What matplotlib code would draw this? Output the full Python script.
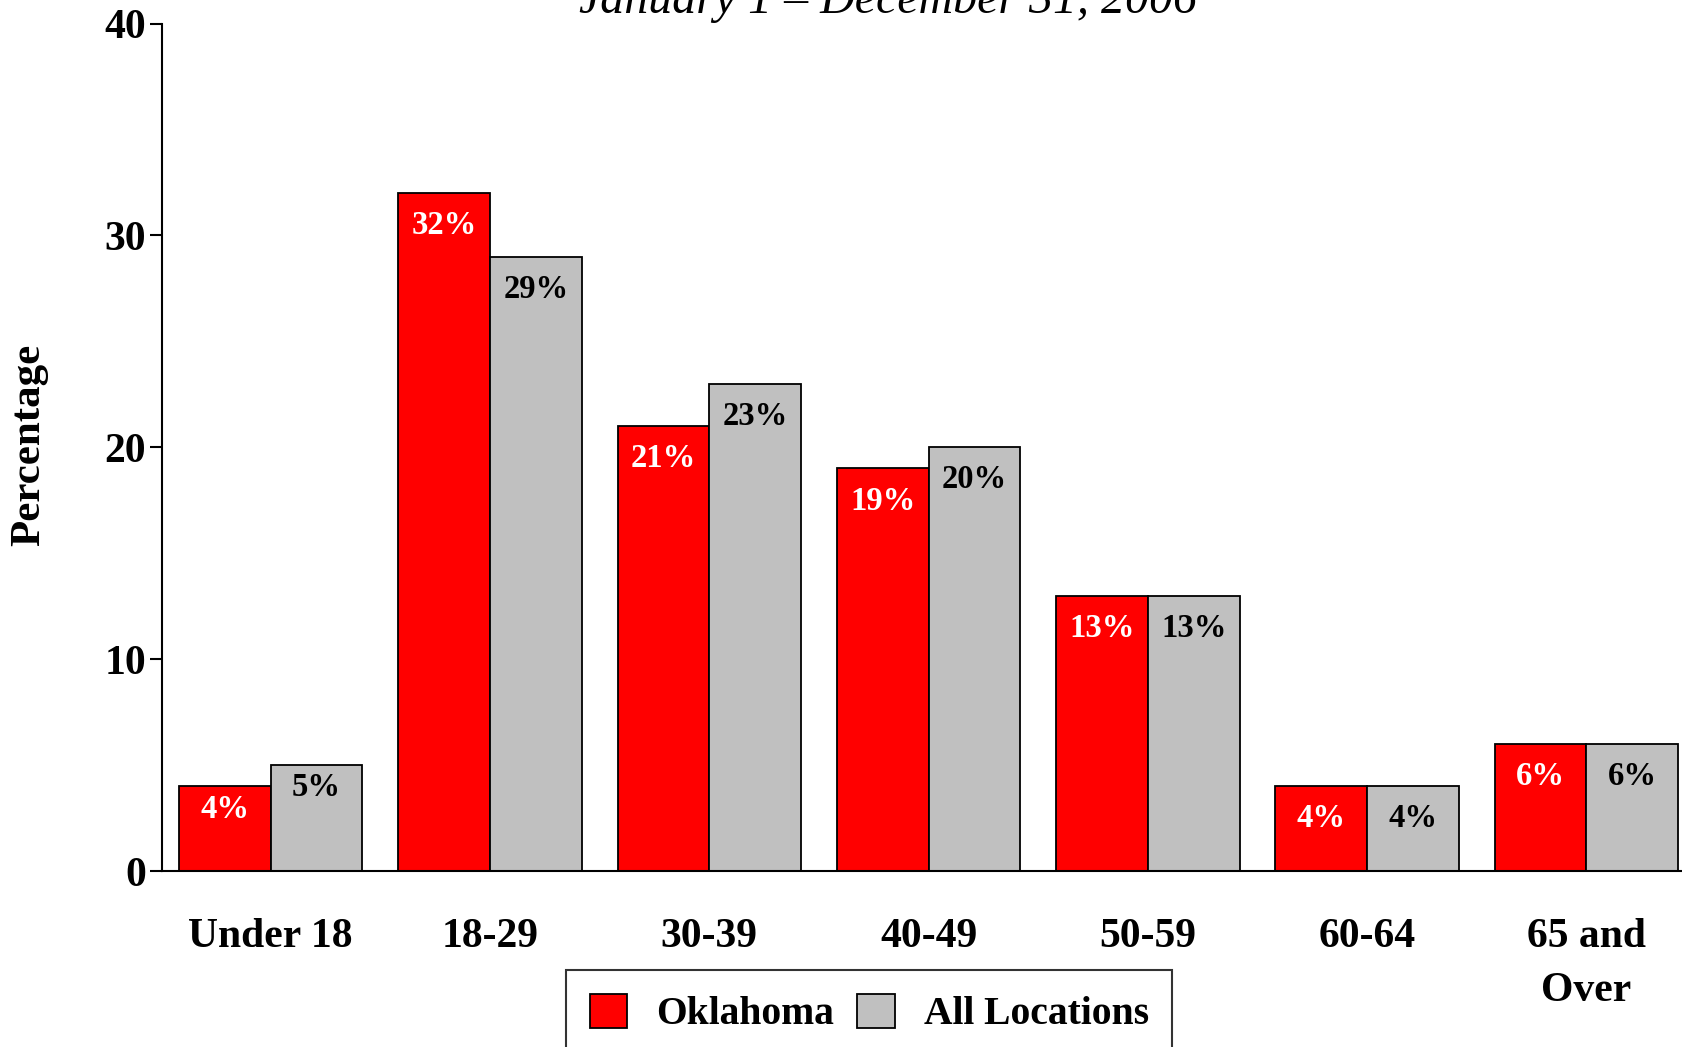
import matplotlib
matplotlib.use("Agg")
import matplotlib.pyplot as plt
import numpy as np

categories = ["Under 18", "18-29", "30-39", "40-49", "50-59", "60-64", "65 and\nOver"]
oklahoma = [4, 32, 21, 19, 13, 4, 6]
all_locations = [5, 29, 23, 20, 13, 4, 6]
series_names = ["Oklahoma", "All Locations"]
yticks = [0, 10, 20, 30, 40]
subtitle = "January 1 \u2013 December 31, 2006"

plt.rcParams['font.family'] = ['Liberation Serif', 'DejaVu Serif']
plt.rcParams['font.weight'] = 'bold'

fig = plt.figure(figsize=(16.83, 10.47), dpi=100)
ax = fig.add_axes([162/1683, 1 - 871/1047, 1 - 162/1683, (871 - 23.5)/1047])

x = np.arange(len(categories))
w = 0.418
red = "#FF0000"
gray = "#C0C0C0"
b1 = ax.bar(x - w/2, oklahoma, w, color=red, edgecolor='black', linewidth=1.3, label=series_names[0])
b2 = ax.bar(x + w/2, all_locations, w, color=gray, edgecolor='black', linewidth=1.3, label=series_names[1])

def label_bars(bars, vals, color):
    for i, (rect, v) in enumerate(zip(bars, vals)):
        off = -16.5 if i == 0 else -23.5
        ax.annotate(f"{v}%", (rect.get_x() + rect.get_width()/2, rect.get_height()),
                    xytext=(0, off), textcoords='offset points', ha='center', va='center',
                    fontsize=23.5, fontweight='bold', color=color)

label_bars(b1, oklahoma, 'white')
label_bars(b2, all_locations, 'black')

ax.set_xlim(-0.495, 6.44)
ax.set_ylim(0, 40)
ax.set_yticks(yticks)
ax.set_yticklabels([str(t) for t in yticks], fontsize=30, fontweight='bold')
ax.set_xticks(x)
ax.set_xticklabels(categories, fontsize=30, fontweight='bold', linespacing=1.55)
ax.tick_params(axis='x', length=0, pad=34)
ax.tick_params(axis='y', length=8.6, width=1.5, pad=3, direction='out')
for s in ['top', 'right']:
    ax.spines[s].set_visible(False)
for s in ['left', 'bottom']:
    ax.spines[s].set_linewidth(1.5)

ax.set_ylabel("Percentage", fontsize=31, fontweight='bold')
ax.yaxis.set_label_coords((48 - 162) / (1683 - 162), (871 - 445) / (871 - 23.5))

fig.text(888/1683, 1 - 13/1047, subtitle, ha='center', va='baseline',
         fontsize=34.5, fontstyle='italic', fontweight='normal')

leg = fig.legend(handles=[b1, b2], labels=series_names, loc='upper left',
                 bbox_to_anchor=(566/1683, 1 - 970/1047), ncol=2, frameon=True,
                 fancybox=False, edgecolor='black', prop={'size': 28.5, 'weight': 'bold'},
                 handlelength=0.95, handleheight=0.95, handletextpad=0.72,
                 columnspacing=0.6, borderpad=0.6, borderaxespad=0)
leg.get_frame().set_linewidth(1.5)

fig.savefig("out.png", dpi=100)
